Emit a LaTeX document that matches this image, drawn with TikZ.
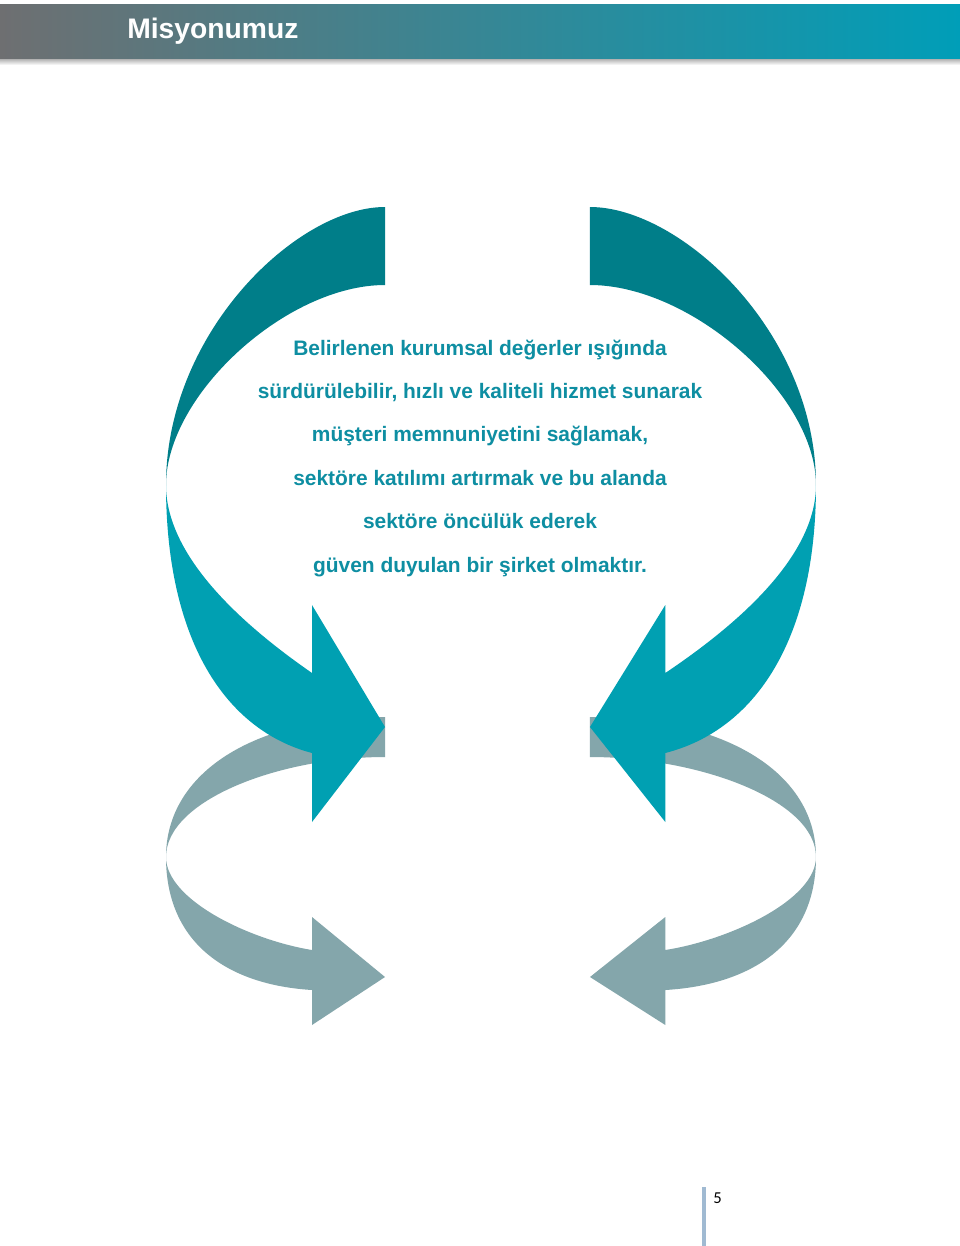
\documentclass[tikz,border=0pt]{standalone}
\usepackage{fontspec}
\setmainfont{Liberation Sans}
\newfontfamily\pagenofont{Carlito}
\definecolor{darkteal}{RGB}{0,126,137}
\definecolor{lightteal}{RGB}{0,160,178}
\definecolor{greyteal}{RGB}{132,166,171}
\definecolor{textteal}{RGB}{14,142,162}
\definecolor{headgrey}{RGB}{110,111,113}
\definecolor{headteal}{RGB}{0,158,184}
\definecolor{pagebar}{RGB}{160,186,210}
\tikzset{
  bandback/.style={fill=darkteal},
  bandfront/.style={fill=lightteal},
  bandgrey/.style={fill=greyteal},
  mission/.style={text=textteal,font=\bfseries\fontsize{15.7}{18}\selectfont,anchor=base},
  headtitle/.style={text=white,font=\bfseries\fontsize{21.2}{24}\selectfont,anchor=base west,inner sep=0pt},
}
% one side of the swirl, drawn for the left half
\newcommand{\greyswirl}{%
  \fill[bandgrey] (385,717) .. controls (253.6,717) and (166,773) .. (166,857)
    .. controls (166,945) and (230,985) .. (312,990) -- (312,1025) -- (385,977) -- (312,917) -- (312,950)
    .. controls (250,940) and (166,900) .. (166,857)
    .. controls (166,800) and (280,757) .. (385,757) -- cycle;}
\newcommand{\tealswirl}{%
  \fill[bandback] (385,207) .. controls (297.4,207) and (166,332) .. (166,485)
    .. controls (166,395) and (286.5,285) .. (385,285) -- cycle;
  \fill[bandfront] (166,485) .. controls (166,560) and (250,630) .. (312,673) -- (312,605) -- (385,727)
    -- (312,822) -- (312,753) .. controls (225,730) and (166,640) .. (166,485) -- cycle;}
\begin{document}
\begin{tikzpicture}[x=0.75pt,y=-0.75pt]
\fill[white] (0,0) rectangle (960,1246);
\useasboundingbox (0,0) rectangle (960,1246);
%
\shade[top color=black!35,bottom color=white] (0,58) rectangle (960,65);
\shade[left color=headgrey,right color=headteal] (0,4) rectangle (960,58);
\node[headtitle] (title) at (127,38) {Misyonumuz};
%
\greyswirl
\tealswirl
\begin{scope}[shift={(987.3,0)},xscale=-1.032]
\greyswirl
\tealswirl
\end{scope}
%
\foreach \txt [count=\i] in {{Belirlenen kurumsal değerler ışığında},
  {sürdürülebilir, hızlı ve kaliteli hizmet sunarak},
  {müşteri memnuniyetini sağlamak,},
  {sektöre katılımı artırmak ve bu alanda},
  {sektöre öncülük ederek},
  {güven duyulan bir şirket olmaktır.}}
  \node[mission] (line\i) at (480,355+43.4*\i-43.4) {\txt};
%
\draw[pagebar,line width=3pt] (704,1187)--(704,1246);
\node[anchor=base west,inner sep=0pt,font=\pagenofont\fontsize{12.5}{14}\selectfont] (pageno) at (713,1203) {5};
\end{tikzpicture}
\end{document}
